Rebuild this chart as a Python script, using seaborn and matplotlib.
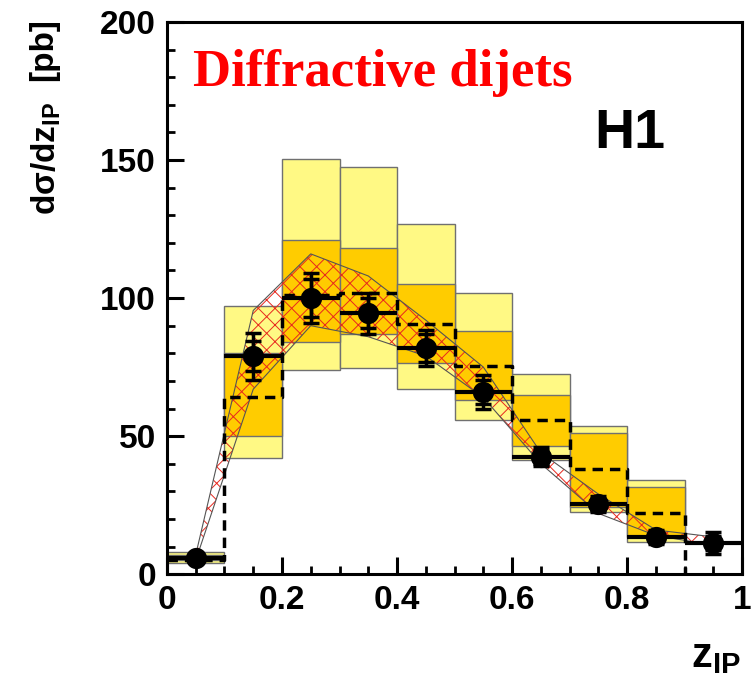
import numpy as np
import seaborn as sns
import matplotlib.pyplot as plt
from matplotlib.ticker import MultipleLocator

# bins in z_IP
bin_lo = [0.0, 0.1, 0.2, 0.3, 0.4, 0.5, 0.6, 0.7, 0.8]
# outer (light yellow) and inner (orange) prediction bands per bin
outer_lo = [4, 42, 74, 74.5, 67, 56, 41.5, 22.5, 11.5]
outer_hi = [8, 97, 150.5, 147.5, 127, 102, 72.5, 53.5, 34]
inner_lo = [5, 50, 84, 87, 76.5, 63, 46.5, 24.5, 13.5]
inner_hi = [7, 80, 121, 118, 105, 88, 65, 51, 31.5]
# dashed histogram (other prediction)
dashed = [5, 64, 101, 102, 90.5, 75.5, 56, 38, 22]

# hatched band nodes
band_x = [0.05, 0.15, 0.25, 0.35, 0.45, 0.55, 0.65, 0.75, 0.85, 0.95]
band_lo = [5, 67, 90, 86, 79, 64, 40, 22, 14, 10.5]
band_hi = [7, 95.5, 116, 108, 92, 75, 44, 29, 16, 13.5]

# H1 data
z = [0.05, 0.15, 0.25, 0.35, 0.45, 0.55, 0.65, 0.75, 0.85, 0.95]
xs = [5.8, 79, 100, 94.5, 82, 66, 42.5, 25.4, 13.5, 11.2]
err_stat = [1.0, 5.5, 7, 5.5, 5, 4.5, 2.5, 2, 1.5, 2.5]
err_tot = [1.5, 8.5, 9, 7.5, 6.5, 6, 3.5, 3, 2.5, 4]

sns.set_style("ticks")
plt.rcParams['font.family'] = ['Liberation Sans', 'DejaVu Sans']
plt.rcParams['mathtext.fontset'] = 'custom'
plt.rcParams['mathtext.rm'] = 'Liberation Sans:bold'
plt.rcParams['mathtext.it'] = 'Liberation Sans:bold'
plt.rcParams['mathtext.bf'] = 'Liberation Sans:bold'
plt.rcParams['hatch.linewidth'] = 0.7
for key in ['text.color', 'axes.labelcolor', 'xtick.color', 'ytick.color',
            'axes.edgecolor']:
    plt.rcParams[key] = 'black'

fig = plt.figure(figsize=(7.52, 6.86), dpi=100)
ax = fig.add_axes([0.222, 0.163, 0.765, 0.805])

w = 0.1
centers = np.array(bin_lo) + w / 2
ax.bar(centers, np.array(outer_hi) - np.array(outer_lo), bottom=outer_lo, width=w,
       color='#FFF984', edgecolor='#707070', linewidth=1.0, zorder=1)
ax.bar(centers, np.array(inner_hi) - np.array(inner_lo), bottom=inner_lo, width=w,
       color='#FFCC00', edgecolor='#707070', linewidth=1.0, zorder=2)

# hatched band
ax.fill_between(band_x, band_lo, band_hi, facecolor='none', edgecolor='#E8281E',
                hatch='xx', linewidth=0, zorder=3)
ax.plot(band_x, band_lo, color='#555555', lw=0.8, zorder=3)
ax.plot(band_x, band_hi, color='#555555', lw=0.8, zorder=3)

# dashed histogram
edges = bin_lo + [0.9]
vals = dashed + [0]
ax.plot(edges, vals, drawstyle='steps-post', color='black', lw=2.5,
        linestyle=(0, (3, 2)), zorder=4)

# data points
ax.errorbar(z, xs, yerr=err_tot, fmt='none', ecolor='black', elinewidth=2.5,
            capsize=6, capthick=2.5, zorder=5)
ax.errorbar(z, xs, yerr=err_stat, fmt='none', ecolor='black', elinewidth=2.5,
            capsize=6, capthick=2.5, zorder=5)
ax.errorbar(z, xs, xerr=0.05, fmt='none', ecolor='black', elinewidth=3, zorder=5)
sns.scatterplot(x=z, y=xs, color='black', s=200, edgecolor='black', zorder=6, ax=ax)

ax.set_xlim(0, 1)
ax.set_ylim(0, 200)
ax.xaxis.set_minor_locator(MultipleLocator(0.05))
ax.yaxis.set_major_locator(MultipleLocator(50))
ax.yaxis.set_minor_locator(MultipleLocator(10))
ax.set_xticks([0, 0.2, 0.4, 0.6, 0.8, 1.0])
ax.set_xticklabels(['0', '0.2', '0.4', '0.6', '0.8', '1'])
ax.tick_params(which='major', direction='in', length=12, width=2.2,
               labelsize=24, pad=8)
ax.tick_params(which='minor', direction='in', length=6, width=2)
for lab in ax.get_xticklabels() + ax.get_yticklabels():
    lab.set_fontweight('bold')
for s in ax.spines.values():
    s.set_linewidth(2.2)
    s.set_visible(True)

# y axis title in two pieces
fig.text(46 / 752, 1 - 215 / 686, r'$\mathrm{d\sigma/dz_{IP}}$', rotation=90,
         ha='center', va='bottom', fontsize=24)
fig.text(44 / 752, 1 - 18 / 686, '[pb]', rotation=90,
         ha='center', va='top', fontsize=24, fontweight='bold')
fig.text(716 / 752, 1 - 656 / 686, r'$\mathrm{z_{IP}}$', ha='center', va='center',
         fontsize=30)
ax.text(0.045, 176.8, 'Diffractive dijets', color='red', fontsize=38,
        fontweight='bold', family=['Liberation Serif', 'DejaVu Serif'],
        ha='left', va='baseline')
ax.text(0.866, 154.3, 'H1', fontsize=40, fontweight='bold', ha='right',
        va='baseline')

fig.savefig('out.png', dpi=100)
